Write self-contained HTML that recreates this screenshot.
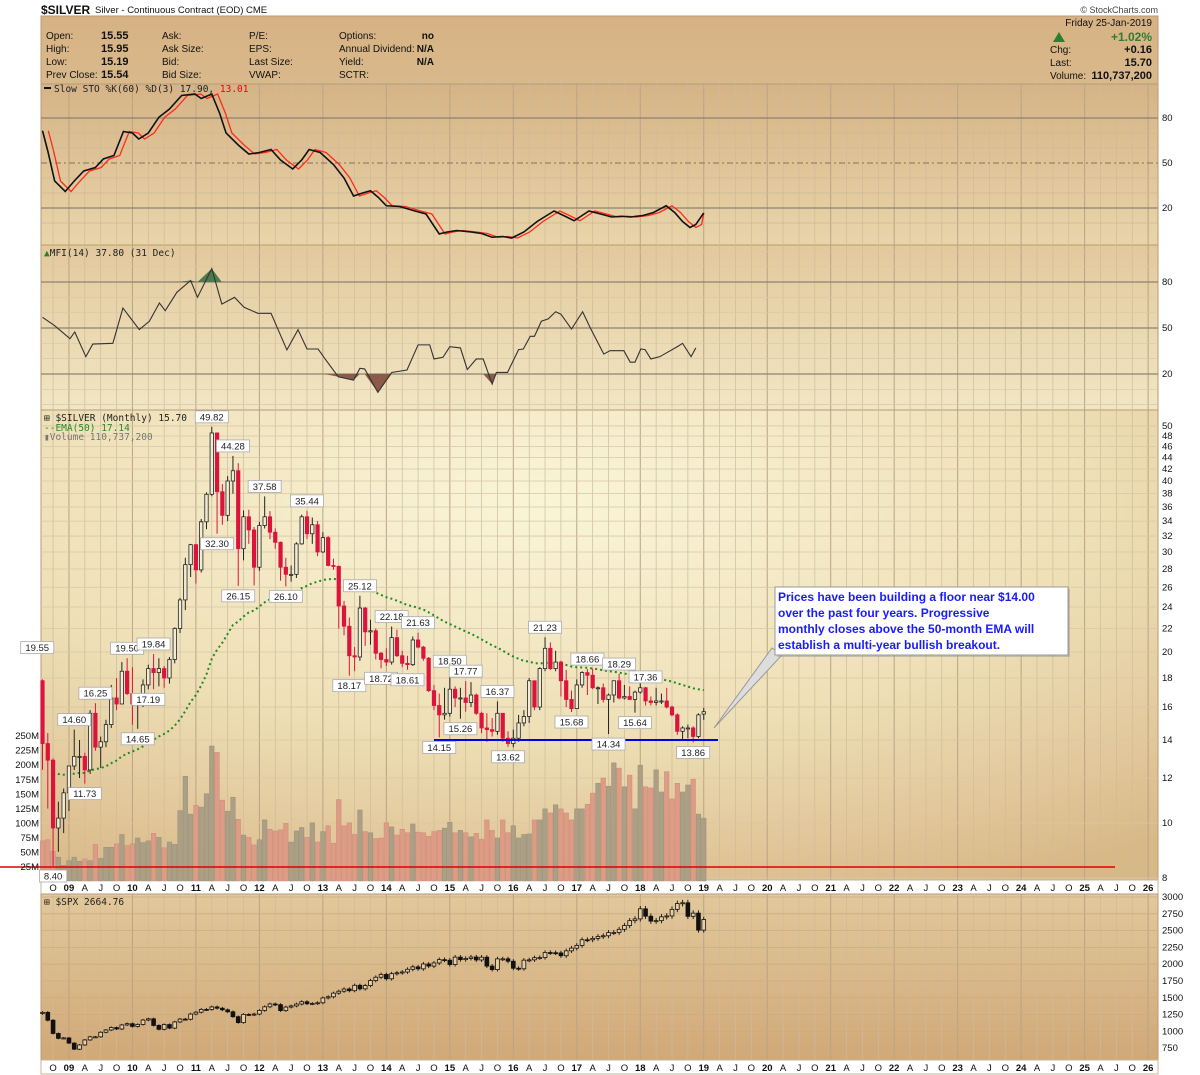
<!DOCTYPE html>
<html><head><meta charset="utf-8"><style>
html,body{margin:0;padding:0;background:#fff;}
svg{display:block;font-family:"Liberation Sans",sans-serif;}
.t{font-size:10px;fill:#111;}
.b{font-weight:bold;}
.m{font-family:"DejaVu Sans Mono","Liberation Mono",monospace;font-size:9.5px;fill:#222;}
.ax{font-size:9.5px;fill:#111;}
</style></head><body>
<svg id="chart" width="1200" height="1075" viewBox="0 0 1200 1075" xmlns="http://www.w3.org/2000/svg">
<defs>
<linearGradient id="gHead" x1="0" y1="0" x2="0" y2="1"><stop offset="0" stop-color="#d6b283"/><stop offset="1" stop-color="#d9b98c"/></linearGradient>
<linearGradient id="gSto" x1="0" y1="0" x2="0" y2="1"><stop offset="0" stop-color="#d6b385"/><stop offset="1" stop-color="#e9d5aa"/></linearGradient>
<linearGradient id="gMfi" x1="0" y1="0" x2="0" y2="1"><stop offset="0" stop-color="#e3c99c"/><stop offset="1" stop-color="#f1e6c4"/></linearGradient>
<radialGradient id="gMain" cx="0.45" cy="0.2" r="0.9"><stop offset="0" stop-color="#faf5d8"/><stop offset="0.55" stop-color="#eedfb6"/><stop offset="1" stop-color="#d9b888"/></radialGradient>
<linearGradient id="gSpx" x1="0" y1="0" x2="0" y2="1"><stop offset="0" stop-color="#e2c89b"/><stop offset="1" stop-color="#d1a877"/></linearGradient>
</defs>
<g id="static">
<text x="41" y="14" style="font-size:12px;font-weight:bold;fill:#111">$SILVER</text>
<text x="95" y="13" class="t" style="font-size:9.5px">Silver - Continuous Contract (EOD)  CME</text>
<text x="1158" y="13" class="t" text-anchor="end" style="font-size:9px;fill:#444">© StockCharts.com</text>
<rect x="41" y="16" width="1117" height="68" fill="url(#gHead)" stroke="#b89a74"/>
<g class="t">
<text x="46" y="39">Open:</text><text x="46" y="52">High:</text><text x="46" y="65">Low:</text><text x="46" y="78">Prev Close:</text>
<text x="101" y="39" class="b" style="font-size:11px">15.55</text><text x="101" y="52" class="b" style="font-size:11px">15.95</text><text x="101" y="65" class="b" style="font-size:11px">15.19</text><text x="101" y="78" class="b" style="font-size:11px">15.54</text>
<text x="162" y="39">Ask:</text><text x="162" y="52">Ask Size:</text><text x="162" y="65">Bid:</text><text x="162" y="78">Bid Size:</text>
<text x="249" y="39">P/E:</text><text x="249" y="52">EPS:</text><text x="249" y="65">Last Size:</text><text x="249" y="78">VWAP:</text>
<text x="339" y="39">Options:</text><text x="339" y="52">Annual Dividend:</text><text x="339" y="65">Yield:</text><text x="339" y="78">SCTR:</text>
<text x="434" y="39" class="b" text-anchor="end">no</text><text x="434" y="52" class="b" text-anchor="end">N/A</text><text x="434" y="65" class="b" text-anchor="end">N/A</text>
<text x="1152" y="26" text-anchor="end">Friday  25-Jan-2019</text>
<polygon points="1053,42 1059,32 1065,42" fill="#2e7d32"/>
<text x="1152" y="41" text-anchor="end" class="b" style="font-size:12px;fill:#2e7d32">+1.02%</text>
<text x="1050" y="53">Chg:</text><text x="1152" y="53" text-anchor="end" class="b" style="font-size:11px">+0.16</text>
<text x="1050" y="66">Last:</text><text x="1152" y="66" text-anchor="end" class="b" style="font-size:11px">15.70</text>
<text x="1050" y="79">Volume:</text><text x="1152" y="79" text-anchor="end" class="b" style="font-size:11px">110,737,200</text>
</g>
<rect x="41" y="84" width="1117" height="161" fill="url(#gSto)" stroke="#b89a74"/>
<rect x="41" y="245" width="1117" height="165" fill="url(#gMfi)" stroke="#b89a74"/>
<rect x="41" y="410" width="1117" height="470" fill="url(#gMain)" stroke="#b89a74"/>
<rect x="41" y="880" width="1117" height="14" fill="#fff" stroke="#c9b59a"/>
<rect x="41" y="894" width="1117" height="166" fill="url(#gSpx)" stroke="#b89a74"/>
<rect x="41" y="1060" width="1117" height="14" fill="#fff" stroke="#c9b59a"/>
</g>
<g id="grid"></g>
<g id="marks"></g>
<g id="labels"></g>
<g id="legend">
<rect x="44" y="87" width="7" height="2" fill="#111"/>
<text x="54" y="92" class="m">Slow STO %K(60) %D(3) 17.90, <tspan fill="#e00">13.01</tspan></text>
<text x="44" y="256" class="m"><tspan fill="#2e7d32">▲</tspan>MFI(14) 37.80 (31 Dec)</text>
<text x="44" y="421" class="m">⊞ $SILVER (Monthly) 15.70</text>
<text x="44" y="431" class="m" style="fill:#2a8a2a">--EMA(50) 17.14</text>
<text x="44" y="440" class="m" style="fill:#777">▮Volume 110,737,200</text>
<text x="44" y="905" class="m">⊞ $SPX 2664.76</text>
</g>
<g>
<polygon points="772,648 782,655 714,728" fill="#ddd" stroke="#999"/>
<rect x="777" y="589" width="293" height="68" fill="#999" opacity="0.5"/>
<rect x="775" y="587" width="293" height="68" fill="#fff" stroke="#999"/>
<g style="font-size:12px;font-weight:bold;fill:#1a1aff">
<text x="778" y="601">Prices have been building a floor near $14.00</text>
<text x="778" y="617">over the past four years. Progressive</text>
<text x="778" y="633">monthly closes above the 50-month EMA will</text>
<text x="778" y="649">establish a multi-year bullish breakout.</text>
</g></g>
</svg>
<script>
// ---- data (months from Aug 2008, index 0, to Jan 2019, index 125) ----
const silverOpen=[17.8,13.8,12.9,9.8,10.2,11.3,12.6,13.1,13.1,12.4,15.6,13.6,13.9,14.9,16.6,16.2,18.5,16.9,16.2,16.4,17.5,18.7,18.4,18.7,18.0,19.4,22.0,24.7,28.5,30.9,27.9,33.9,37.9,48.6,38.3,34.8,40.0,41.7,30.4,34.6,32.8,28.2,33.4,34.6,32.5,31.2,28.2,27.4,27.4,31.0,34.6,32.3,33.5,30.0,31.8,28.4,28.3,24.1,22.2,19.7,19.6,23.9,21.7,21.8,19.9,19.4,19.2,21.2,19.7,19.1,19.0,21.0,20.4,19.5,17.1,16.1,15.5,15.6,17.2,16.6,16.6,16.3,16.8,15.6,14.7,14.6,14.5,15.6,14.1,13.8,14.1,15.0,15.4,17.8,16.0,18.7,20.3,18.7,19.2,17.8,16.5,15.9,17.5,18.4,18.2,17.3,17.3,16.5,16.8,17.8,16.6,16.7,16.5,17.0,17.3,16.4,16.3,16.4,16.4,16.0,15.5,14.5,14.7,14.7,14.2,15.55];
const silverHigh=[17.9,14.4,13.0,10.9,11.5,12.6,14.6,14.0,13.3,15.8,16.25,14.2,15.2,17.5,18.0,19.2,19.5,18.8,16.7,17.9,19.0,19.84,19.5,18.9,19.6,22.1,24.9,29.3,31.0,31.0,34.3,38.2,49.82,48.7,39.5,40.8,44.28,43.0,35.5,35.6,33.2,33.9,37.58,35.4,33.0,31.3,29.3,28.4,31.2,34.9,35.44,34.5,34.0,32.5,32.0,29.2,28.4,24.6,23.0,20.4,25.12,24.0,22.8,22.0,20.0,20.3,22.18,21.9,20.1,19.7,21.3,21.63,20.5,19.6,17.5,16.9,17.3,18.50,17.4,17.3,17.77,17.7,16.9,15.7,15.6,15.3,16.37,15.6,14.5,14.6,15.5,15.8,18.0,17.8,18.8,21.23,20.8,20.1,19.3,18.6,17.1,17.9,18.5,18.66,18.7,17.4,17.6,16.9,17.8,18.29,17.5,17.4,17.1,17.7,17.36,16.7,17.3,16.9,17.3,16.1,15.6,14.8,14.9,14.8,15.6,15.95];
const silverLow=[12.4,10.6,8.40,8.9,9.6,10.5,12.4,12.0,11.73,12.2,13.4,12.5,13.6,14.7,15.8,16.2,16.8,14.9,14.65,16.0,17.19,17.2,17.4,17.3,17.6,19.1,21.6,23.7,27.1,26.4,27.6,32.9,37.6,32.30,33.5,34.0,38.0,26.15,29.0,31.0,26.2,27.8,33.0,31.6,30.4,26.7,26.10,26.6,27.0,30.9,31.6,31.0,29.5,29.9,28.3,27.9,22.0,21.4,18.17,18.5,19.3,20.5,20.6,19.4,18.72,18.9,19.0,19.6,18.8,18.61,18.9,20.3,19.3,17.0,15.8,14.15,15.2,15.4,16.0,15.26,15.7,16.0,15.5,14.4,13.9,14.2,14.3,13.9,13.62,13.6,13.9,14.8,15.0,15.8,15.8,18.5,18.6,18.5,16.7,16.0,15.68,15.9,17.3,16.8,17.2,16.2,16.3,14.34,16.3,16.5,16.5,16.5,15.64,16.9,16.1,16.1,16.1,16.2,15.9,15.4,14.3,13.96,14.1,13.86,14.1,15.19];
const silverClose=[13.8,12.9,9.8,10.2,11.3,12.6,13.1,13.1,12.4,15.6,13.6,13.9,14.9,16.6,16.2,18.5,16.9,16.2,16.4,17.5,18.7,18.4,18.7,18.0,19.4,22.0,24.7,28.5,30.9,27.9,33.9,37.9,48.6,38.3,34.8,40.0,41.7,30.4,34.6,32.8,28.2,33.4,34.6,32.5,31.2,28.2,27.4,27.4,31.0,34.6,32.3,33.5,30.0,31.8,28.4,28.3,24.1,22.2,19.7,19.6,23.9,21.7,21.8,19.9,19.4,19.2,21.2,19.7,19.1,19.0,21.0,20.4,19.5,17.1,16.1,15.5,15.6,17.2,16.6,16.6,16.3,16.8,15.6,14.7,14.6,14.5,15.6,14.1,13.8,14.1,15.0,15.4,17.8,16.0,18.7,20.3,18.7,19.2,17.8,16.5,15.9,17.5,18.4,18.2,17.3,17.3,16.5,16.8,17.8,16.6,16.7,16.5,17.0,17.3,16.4,16.3,16.4,16.4,16.0,15.5,14.5,14.7,14.7,14.2,15.5,15.70];
const volumeM=[70,72,52,42,28,36,42,35,39,36,64,40,59,59,65,81,62,65,75,67,70,83,76,58,68,64,122,181,116,131,128,151,233,222,140,121,145,107,80,76,63,72,106,90,87,89,100,68,87,93,76,101,68,86,96,66,141,96,101,81,123,86,84,74,75,101,94,80,90,84,99,85,84,78,86,88,92,102,84,88,84,77,83,73,106,88,75,106,84,96,75,81,82,106,106,125,118,132,125,118,106,125,125,133,152,169,178,164,204,195,163,183,125,200,163,161,192,154,189,142,169,154,166,176,116,109];
const spxClose=[1283,1166,969,896,903,826,735,798,873,919,919,987,1021,1057,1036,1096,1115,1074,1104,1169,1187,1089,1031,1102,1049,1141,1183,1181,1258,1286,1327,1326,1364,1345,1321,1292,1219,1131,1253,1247,1258,1312,1366,1408,1398,1310,1362,1379,1407,1441,1412,1416,1426,1498,1515,1569,1598,1631,1606,1686,1633,1682,1757,1806,1848,1783,1859,1872,1884,1924,1960,1931,2003,1972,2018,2068,2059,1995,2105,2068,2086,2107,2063,2104,1972,1920,2079,2080,2044,1940,1932,2060,2065,2097,2099,2174,2171,2168,2126,2199,2239,2279,2364,2363,2384,2412,2423,2470,2472,2519,2575,2648,2674,2824,2714,2641,2648,2705,2718,2816,2902,2914,2712,2760,2507,2664.76];
const spxFirstOpen=1267;
const stoMonths=[0,1,2.3,4.3,6,7.8,10,11.5,13.5,15.3,17,18.2,20,22,24,26.3,28.8,30,32,33.5,34.7,37,39,41,43.2,45,47.3,49,50.4,52.5,55,57,58.8,60.5,62,63.5,65,67.5,70.4,72.5,75,76.5,78.3,81,83,85,87,88.7,91,93.5,96.7,98.5,100.5,102,103.3,105.5,107.6,109.5,111.2,113.5,115.5,117.9,119.5,121,122.4,123.5,125];
const stoK=[71.5,58,38,31,38,44.7,47,52.7,55,71,70,66,70,80.5,86,95,96,93,96,83,70,62,56,57,59,52,46,52,59,57,49,40,28,30,31.5,27,21.5,21,18,16,2.7,4,5,4,3,0.5,1,0,4,11,18,15,11.5,15,18,16,14,14.5,14,15,17,21.5,17,11,7,9,16.7];
const mfiMonths=[0,2.3,5.2,6.1,8.2,9.5,13.3,15.2,18.3,20.2,22.1,23.2,25.4,28,29.3,32,33.9,36.3,38.1,40.7,43.2,46.2,48.3,50,52.1,53.3,55.9,58.8,60,60.9,63.4,66,68.9,71,73.2,74,75.7,77,79,80.3,82,83.3,85,85.8,87.9,90,90.9,92.2,93,94.3,95.6,97,98,100,102.1,103.5,106.1,107.3,109.9,111.1,112,113.1,113.9,115,116.7,120.1,121,122.6,123.5];
const mfiValues=[57,51.5,43,47.4,31.3,39.5,40,63,49,54.4,66.3,61.3,73.3,81,70,88.7,65.6,70,63.5,59.6,59.6,35.7,48.9,36.3,36.3,30.4,18.2,16,23.7,23.3,8,21,22.6,39,39,29.8,30.9,37.8,37,22.9,29.8,29.8,13.5,21,21,35.9,36.3,44.6,44.6,54.4,55.9,60.6,59,49.3,60.6,50.4,33,35.2,35.2,27.7,27.7,36.3,35.9,29.8,31.3,38,40,31.3,37];
const priceTicks=[50,48,46,44,42,40,38,36,34,32,30,28,26,24,22,20,18,16,14,12,10,8];
const volTicks=[250,225,200,175,150,125,100,75,50,25];
const spxTicks=[3000,2750,2500,2250,2000,1750,1500,1250,1000,750];
const stoTicks=[80,50,20];
const peakMonths=[-1,6,10,16,21,32,36,42,50,60,66,71,77,80,86,95,103,109,114];
const peakValues=[19.55,14.60,16.25,19.50,19.84,49.82,44.28,37.58,35.44,25.12,22.18,21.63,18.50,17.77,16.37,21.23,18.66,18.29,17.36];
const troughMonths=[2,8,18,20,33,37,46,58,64,69,75,79,88,100,107,112,123];
const troughValues=[8.40,11.73,14.65,17.19,32.30,26.15,26.10,18.17,18.72,18.61,14.15,15.26,13.62,15.68,14.34,15.64,13.86];
const floorLevel=14.0;
const redLineVolume=25;

// ---- axis functions ----
const NS='http://www.w3.org/2000/svg';
const X0=42.5, DX=5.29, L=41, R=1158;
const xM=i=>X0+i*DX;
const yP=p=>823-246.7*Math.log(p/10);
const yV=v=>881.6-v*0.582;
const yS=v=>163-(v-50)*1.5;
const yF=v=>328-(v-50)*1.533;
const yX=v=>897+(3000-v)/250*16.8;
function mk(tag,attrs,parent){const e=document.createElementNS(NS,tag);for(const k in attrs)e.setAttribute(k,attrs[k]);(parent||document.getElementById('marks')).appendChild(e);return e;}
const grid=document.getElementById('grid'),marks=document.getElementById('marks'),labels=document.getElementById('labels');

const monthLetters={0:'',3:'A',6:'J',9:'O'};
for(let m=2;m<=209;m+=3){
  const x=xM(m); const mon=(m+7)%12; const yr=2008+Math.floor((m+7)/12);
  const isYear=mon===0;
  [[84,880],[894,1060]].forEach(([a,b])=>{const ln=mk('line',{x1:x,x2:x,y1:a,y2:b,stroke:isYear?'#b9a386':'#cdbb9c','stroke-width':isYear?1:0.7},grid);
    
    });
  const txt=isYear?String(yr%100).padStart(2,'0'):monthLetters[mon];
  [891,1071].forEach(yy=>{const t=mk('text',{x:x,y:yy,'text-anchor':'middle',class:'ax'},labels);t.textContent=txt;if(isYear)t.setAttribute('font-weight','bold');
    
    });
}
for(let v=10;v<=100;v+=10){const y=yS(v);if(y>85&&y<244){const main=stoTicks.includes(v);const ln=mk('line',{x1:L,x2:R,y1:y,y2:y,stroke:main?'#8d8271':'#cdb898','stroke-width':main?1.2:0.7,'stroke-dasharray':v===50?'6,3,2,3':'none'},grid);
  
  }}
stoTicks.forEach(v=>{const t=mk('text',{x:1162,y:yS(v)+3,class:'ax'},labels);t.textContent=v;
  
  });
for(let v=0;v<=100;v+=10){const y=yF(v);if(y>246&&y<409){const main=stoTicks.includes(v);const ln=mk('line',{x1:L,x2:R,y1:y,y2:y,stroke:main?'#8d8271':'#d9c8a8','stroke-width':main?1.2:0.7},grid);
  
  }}
stoTicks.forEach(v=>{const t=mk('text',{x:1162,y:yF(v)+3,class:'ax'},labels);t.textContent=v;
  
  });
priceTicks.forEach(p=>{const y=yP(p);const ln=mk('line',{x1:L,x2:R,y1:y,y2:y,stroke:'#d8c7a4','stroke-width':0.8},grid);
  
  
  const t=mk('text',{x:1162,y:y+3,class:'ax'},labels);t.textContent=p;
  
  });
volTicks.forEach(v=>{const t=mk('text',{x:39,y:yV(v)+3,class:'ax','text-anchor':'end'},labels);t.textContent=v+'M';
  
  });
spxTicks.forEach(v=>{const y=yX(v);const ln=mk('line',{x1:L,x2:R,y1:y,y2:y,stroke:'#c9ad84','stroke-width':0.8},grid);
  
  
  const t=mk('text',{x:1162,y:y+3,class:'ax'},labels);t.textContent=v;
  
  });

volumeM.forEach((v,i)=>{const down=silverClose[i]<silverOpen[i];const r=mk('rect',{x:xM(i)-2.3,y:yV(v),width:4.6,height:881-yV(v),fill:down?'#dc9c86':'#ab9f86',stroke:down?'#d08a78':'#9a8f78','stroke-width':0.5});
  
  });
{const y=yV(redLineVolume);const l=mk('line',{x1:0,x2:1115,y1:y,y2:y,stroke:'#e00000','stroke-width':1.5});
 
 }
{let e=12.3;const pts=[];silverClose.forEach((c,i)=>{e=e+(c-e)*2/51;if(i>=2)pts.push(xM(i)+','+yP(e));});
 const pl=mk('polyline',{points:pts.join(' '),fill:'none',stroke:'#1f8a1f','stroke-width':2,'stroke-dasharray':'2,3'});
 
 }
silverClose.forEach((c,i)=>{const o=silverOpen[i],h=silverHigh[i],lo=silverLow[i];const down=c<o;const x=xM(i);
  const col=down?'#dc143c':'#222';
  const w=mk('line',{x1:x,x2:x,y1:yP(h),y2:yP(lo),stroke:col,'stroke-width':1});
  
  
  const top=yP(Math.max(o,c)),bot=yP(Math.min(o,c));
  const b=mk('rect',{x:x-1.7,y:top,width:3.4,height:Math.max(1,bot-top),fill:down?'#dc143c':'#f3ecd4',stroke:col,'stroke-width':0.8});
  
  });
{const y=yP(floorLevel);const l=mk('line',{x1:434,x2:718,y1:y,y2:y,stroke:'#0000ee','stroke-width':2});
 
 }
function priceLabel(i,v,above){const x=Math.max(24,xM(i));const txt=v.toFixed(2);const w=txt.length*5.6+5;
  const y=above?yP(v)-16:yP(v)+4;
  const g=mk('g',{},labels);
  
  
  mk('rect',{x:x-w/2,y:y,width:w,height:12,fill:'#fff',stroke:'#aaa','stroke-width':0.8},g);
  const t=mk('text',{x:x,y:y+9.5,'text-anchor':'middle',style:'font-size:9.5px;fill:#222'},g);t.textContent=txt;}
peakMonths.forEach((m,k)=>priceLabel(m,peakValues[k],true));
troughMonths.forEach((m,k)=>priceLabel(m,troughValues[k],false));
{const k=stoMonths.map((m,j)=>xM(m)+','+yS(stoK[j]));
 const d=stoMonths.map((m,j)=>xM(Math.min(125,m+1.1))+','+yS(stoK[j]));
 const pd=mk('polyline',{points:d.join(' '),fill:'none',stroke:'#ff2a1a','stroke-width':1.3});
 
 
 const pk=mk('polyline',{points:k.join(' '),fill:'none',stroke:'#111','stroke-width':1.6});
 
 }
{const pts=mfiMonths.map((m,j)=>[xM(m),yF(mfiValues[j])]);
 const y80=yF(80),y20=yF(20);
 const up='M'+pts.map(p=>p[0]+','+Math.min(p[1],y80)).join(' L')+' Z';
 const f1=mk('path',{d:up,fill:'#4e7a4e'});
 
 
 const dn='M'+pts.map(p=>p[0]+','+Math.max(p[1],y20)).join(' L')+' Z';
 const f2=mk('path',{d:dn,fill:'#8b5a48'});
 
 
 const pl=mk('polyline',{points:pts.map(p=>p.join(',')).join(' '),fill:'none',stroke:'#333','stroke-width':1.1});
 
 }
spxClose.forEach((c,i)=>{const o=i===0?spxFirstOpen:spxClose[i-1];const x=xM(i);const down=c<o;
  const hi=Math.max(o,c)*1.015,lo=Math.min(o,c)*0.985;
  const w=mk('line',{x1:x,x2:x,y1:yX(hi),y2:yX(lo),stroke:'#111','stroke-width':0.9});
  
  
  const top=yX(Math.max(o,c)),bot=yX(Math.min(o,c));
  const b=mk('rect',{x:x-1.9,y:top,width:3.8,height:Math.max(1,bot-top),fill:down?'#111':'#e6cfa4',stroke:'#111','stroke-width':0.8});
  
  });
</script>
</body></html>
